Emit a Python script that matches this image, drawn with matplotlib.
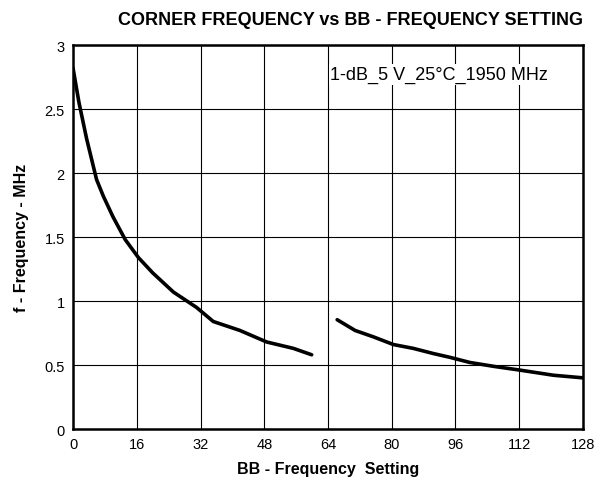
import numpy as np
import matplotlib
matplotlib.use("Agg")
from matplotlib import pyplot as plt

plt.rcParams['font.family'] = ['Liberation Sans', 'DejaVu Sans']

# segment 1 (settings 0..60)
bb_low = [0, 1.5, 3.4, 5.9, 7.6, 10, 13.1, 16.4, 20, 25.2, 31.0, 35.2, 41.9, 48.6, 55.3, 59.9]
f_low = [2.82, 2.55, 2.27, 1.95, 1.82, 1.66, 1.48, 1.34, 1.22, 1.07, 0.95, 0.84, 0.77, 0.68, 0.63, 0.58]
# segment 2 (settings 66..128)
bb_high = [66.3, 70.8, 75.4, 80.4, 85.4, 90.4, 94.6, 99.6, 105.5, 112.2, 120.6, 127.9]
f_high = [0.854, 0.77, 0.72, 0.66, 0.63, 0.59, 0.56, 0.52, 0.49, 0.46, 0.42, 0.40]

x_ticks = [0, 16, 32, 48, 64, 80, 96, 112, 128]
y_ticks = [0, 0.5, 1, 1.5, 2, 2.5, 3]
y_tick_labels = ['0', '0.5', '1', '1.5', '2', '2.5', '3']

fig = plt.figure(figsize=(6.06, 4.85), dpi=100)
ax = fig.add_axes([0.1205, 0.1134, 0.8415, 0.7916])

ax.plot(bb_low, f_low, color='black', lw=2.6, solid_capstyle='round', solid_joinstyle='round')
ax.plot(bb_high, f_high, color='black', lw=2.6, solid_capstyle='round', solid_joinstyle='round')

ax.set_xlim(0, 128)
ax.set_ylim(0, 3)
ax.set_xticks(x_ticks)
ax.set_yticks(y_ticks)
ax.set_yticklabels(y_tick_labels)
ax.grid(True, color='black', lw=0.8)
ax.tick_params(length=0, labelsize=10.5, pad=6)
for s in ax.spines.values():
    s.set_linewidth(1.8)

ax.text(64.6, 2.77, '1-dB_5 V_25\u00b0C_1950 MHz', fontsize=13, va='center', ha='left',
        bbox=dict(facecolor='white', edgecolor='none', pad=1))

ax.set_xlabel('BB - Frequency  Setting', fontsize=11.5, fontweight='bold', labelpad=7)
ax.set_ylabel('f - Frequency - MHz', fontsize=11.5, fontweight='bold', labelpad=11)

fig.text(0.578, 0.958, 'CORNER FREQUENCY vs BB - FREQUENCY SETTING', fontsize=13,
         fontweight='bold', ha='center', va='center')

plt.savefig('out.png', dpi=100)
